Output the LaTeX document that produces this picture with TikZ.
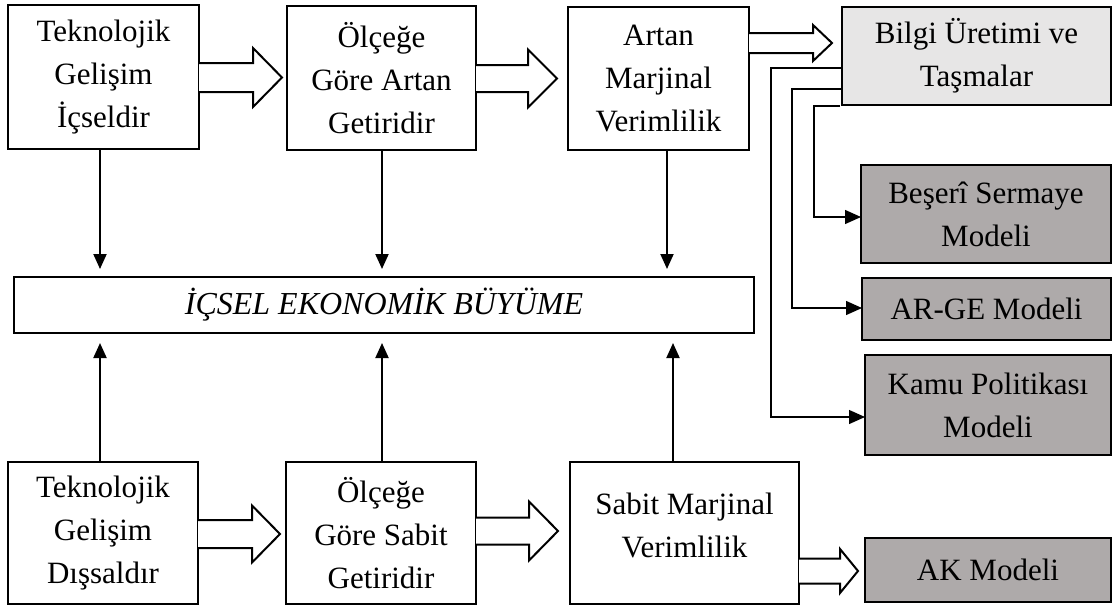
\documentclass[tikz,border=0pt]{standalone}
\usepackage{fontspec}
\setmainfont{Liberation Serif}
\usetikzlibrary{calc,arrows.meta}
\definecolor{lightg}{HTML}{E7E6E6}
\definecolor{darkg}{HTML}{AEAAAA}
\newcommand{\harrowdraw}[5]{%
  \draw[harrow] let \p1=#1, \p2=#2 in
    (\x1,\y1+#3) -- (\x2-#4,\y1+#3) -- (\x2-#4,\y1+#5) -- (\x2,\y1)
    -- (\x2-#4,\y1-#5) -- (\x2-#4,\y1-#3) -- (\x1,\y1-#3);}
\begin{document}
\begin{tikzpicture}[x=1pt,y=-1pt,
  box/.style={draw, line width=2pt, inner sep=0pt, outer sep=0pt, align=center, anchor=north west,
              font=\fontsize{31}{43}\selectfont},
  txt/.style={inner sep=0pt, align=center, font=\fontsize{31}{43}\selectfont},
  harrow/.style={draw, line width=2pt, fill=white, line join=miter},
  varrow/.style={line width=2pt, -{Triangle[width=13pt,length=15pt]}},
  conn/.style={line width=1.3pt, -{Triangle[width=14pt,length=16pt]}}]
\useasboundingbox (0,0) rectangle (1113,605);

% top row
\node[box, minimum width=191pt, minimum height=144pt] (t1) at (8,5) {Teknolojik\\Gelişim\\İçseldir};
\node[box, minimum width=189pt, minimum height=144pt] (t2) at (287,6) {Ölçeğe\\Göre Artan\\Getiridir};
\node[box, minimum width=181pt, minimum height=143pt] (t3) at (568,7) {Artan\\Marjinal\\Verimlilik};
\node[box, fill=lightg, minimum width=269pt, minimum height=98pt] (bilgi) at (842,7) {Bilgi Üretimi ve\\Taşmalar};

% right models
\node[box, fill=darkg, minimum width=250pt, minimum height=98pt] (beseri) at (861,165) {Beşerî Sermaye\\Modeli};
\node[box, fill=darkg, minimum width=249pt, minimum height=62pt] (arge) at (862,278) {AR-GE Modeli};
\node[box, fill=darkg, minimum width=246pt, minimum height=100pt] (kamu) at (865,355) {Kamu Politikası\\Modeli};
\node[box, fill=darkg, minimum width=246pt, minimum height=64pt] (ak) at (865,538) {AK Modeli};

% middle
\node[box, minimum width=740pt, minimum height=56pt, font=\fontsize{32}{36}\selectfont\itshape] (mid) at (14,277) {İÇSEL EKONOMİK BÜYÜME};

% bottom row
\node[box, minimum width=190pt, minimum height=142pt] (b1) at (8,462) {Teknolojik\\Gelişim\\Dışsaldır};
\node[box, minimum width=190pt, minimum height=142pt] (b2) at (286,462) {Ölçeğe\\Göre Sabit\\Getiridir};
\node[box, minimum width=229pt, minimum height=142pt] (b3) at (570,462) {};
\node[txt] (b3t) at ($(b3.center)+(0,-8)$) {Sabit Marjinal\\Verimlilik};

% hollow arrows
\harrowdraw{($(t1.east)+(0,0.5)$)}{($(t2.west)+(-5,0)$)}{14.5pt}{29pt}{29.5pt}
\harrowdraw{($(t2.east)+(0,0.5)$)}{($(t3.west)+(-11,0)$)}{13.5pt}{29pt}{29pt}
\harrowdraw{($(t3.north east)+(0,36)$)}{($(bilgi.west)+(-10,0)$)}{10pt}{19pt}{18pt}
\harrowdraw{($(b1.east)+(0,1)$)}{($(b2.west)+(-6,0)$)}{14pt}{28pt}{28.5pt}
\harrowdraw{($(b2.east)+(0,-2)$)}{($(b3.west)+(-12,0)$)}{13.5pt}{29pt}{29.5pt}
\harrowdraw{($(b3.east)+(0,38)$)}{($(ak.west)+(-7,0)$)}{12.5pt}{18pt}{22pt}

% vertical arrows
\coordinate (c1) at (100,0);
\coordinate (c2) at (382,0);
\coordinate (c3) at (667,0);
\coordinate (c4) at (673,0);
\draw[varrow, shorten >=8pt] (t1.south -| c1) -- (mid.north -| c1);
\draw[varrow, shorten >=8pt] (t2.south -| c2) -- (mid.north -| c2);
\draw[varrow, shorten >=8pt] (t3.south -| c3) -- (mid.north -| c3);
\draw[varrow, shorten >=10pt] (b1.north -| c1) -- (mid.south -| c1);
\draw[varrow, shorten >=10pt] (b2.north -| c2) -- (mid.south -| c2);
\draw[varrow, shorten >=10pt] (b3.north -| c4) -- (mid.south -| c4);

% connectors from Bilgi Üretimi
\draw[conn] ($(bilgi.north west)+(0,61)$) -| ($(kamu.west)+(-94,12)$) -- ($(kamu.west)+(0,12)$);
\draw[conn] ($(bilgi.north west)+(0,82)$) -| ($(arge.west)+(-70,-1)$) -- ($(arge.west)+(0,-1)$);
\draw[conn] ($(bilgi.south west)+(-2,1)$) -| ($(beseri.west)+(-47,3)$) -- ($(beseri.west)+(0,3)$);
\end{tikzpicture}
\end{document}
